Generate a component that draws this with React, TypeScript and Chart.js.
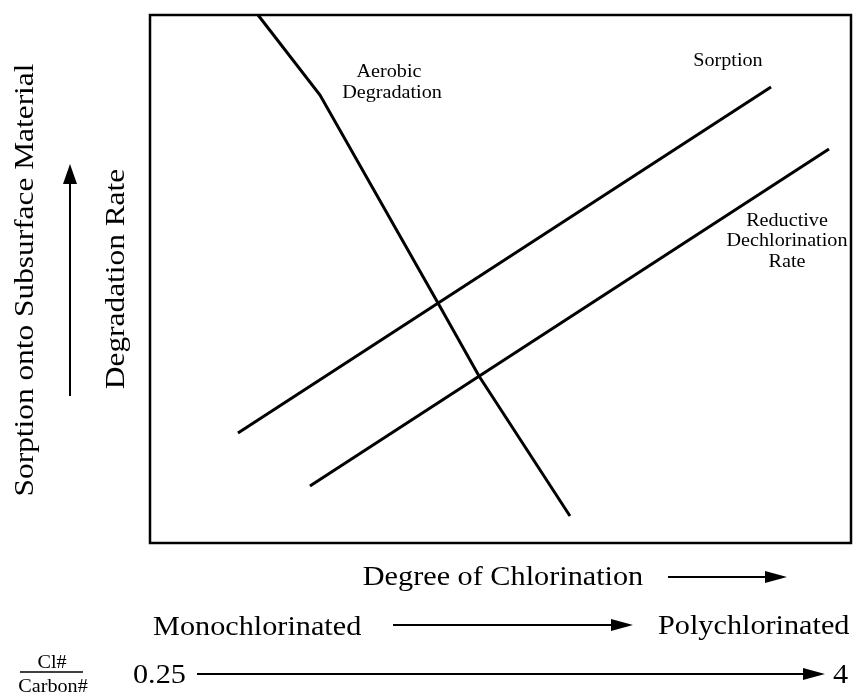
import React, { useEffect, useRef } from "react";
import { Chart, registerables } from "chart.js";

Chart.register(...registerables);

// ---- data (arbitrary 0–100 units; x = degree of chlorination, y = rate / sorption) ----
const aerobicX = [15.41, 24.25, 41.08, 46.93, 59.91];
const aerobicY = [100, 84.85, 45.45, 31.63, 5.11];
const sorptionX = [12.55, 88.59];
const sorptionY = [20.83, 86.36];
const reductiveX = [22.82, 96.86];
const reductiveY = [10.8, 74.62];

const seriesNames = ["Aerobic Degradation", "Sorption", "Reductive Dechlorination Rate"];

// in-plot labels (text lines, anchored in data units at each line's baseline)
const labelLines = [
  { text: "Aerobic", x: 34.09, y: 88.26 },
  { text: "Degradation", x: 34.52, y: 84.28 },
  { text: "Sorption", x: 82.45, y: 90.34 },
  { text: "Reductive", x: 90.87, y: 60.04 },
  { text: "Dechlorination", x: 90.87, y: 56.25 },
  { text: "Rate", x: 90.87, y: 52.27 },
];

const FONT = '"Liberation Serif", "Times New Roman", serif';
const SX = 1.12;

function pts(xs: number[], ys: number[]) {
  return xs.map((x, i) => ({ x, y: ys[i] }));
}

function stretchText(
  ctx: CanvasRenderingContext2D,
  text: string,
  x: number,
  y: number,
  size: number,
  align: CanvasTextAlign
) {
  ctx.save();
  ctx.font = `${size}px ${FONT}`;
  ctx.textAlign = align;
  ctx.textBaseline = "alphabetic";
  ctx.translate(x, y);
  ctx.scale(SX, 1);
  ctx.fillText(text, 0, 0);
  ctx.restore();
}

function arrow(ctx: CanvasRenderingContext2D, x1: number, y1: number, x2: number, y2: number, head: number, half: number) {
  const ang = Math.atan2(y2 - y1, x2 - x1);
  const bx = x2 - head * Math.cos(ang);
  const by = y2 - head * Math.sin(ang);
  ctx.save();
  ctx.strokeStyle = "#000";
  ctx.fillStyle = "#000";
  ctx.lineWidth = 2;
  ctx.beginPath();
  ctx.moveTo(x1, y1);
  ctx.lineTo(bx, by);
  ctx.stroke();
  ctx.beginPath();
  ctx.moveTo(x2, y2);
  ctx.lineTo(bx + half * Math.sin(ang), by - half * Math.cos(ang));
  ctx.lineTo(bx - half * Math.sin(ang), by + half * Math.cos(ang));
  ctx.closePath();
  ctx.fill();
  ctx.restore();
}

const decorPlugin = {
  id: "decor",
  afterDraw(chart: any) {
    const ctx: CanvasRenderingContext2D = chart.ctx;
    const { left, right, top, bottom } = chart.chartArea;
    const xs = chart.scales.x;
    const ys = chart.scales.y;
    ctx.save();
    ctx.fillStyle = "#000";
    // frame
    ctx.strokeStyle = "#000";
    ctx.lineWidth = 2.5;
    ctx.strokeRect(left, top, right - left, bottom - top);

    // in-plot labels
    for (const l of labelLines) {
      stretchText(ctx, l.text, xs.getPixelForValue(l.x), ys.getPixelForValue(l.y), 18, "center");
    }

    // left rotated titles
    ctx.save();
    ctx.translate(33, 280);
    ctx.rotate(-Math.PI / 2);
    stretchText(ctx, "Sorption onto Subsurface Material", 0, 0, 28, "center");
    ctx.restore();
    ctx.save();
    ctx.translate(124, 279);
    ctx.rotate(-Math.PI / 2);
    stretchText(ctx, "Degradation Rate", 0, 0, 28, "center");
    ctx.restore();
    arrow(ctx, 70, 396, 70, 164, 20, 7);

    // bottom titles
    stretchText(ctx, "Degree of Chlorination", 503, 585, 27, "center");
    arrow(ctx, 668, 577, 787, 577, 22, 6);

    stretchText(ctx, "Monochlorinated", 153, 635, 27, "left");
    arrow(ctx, 393, 625, 633, 625, 22, 6);
    stretchText(ctx, "Polychlorinated", 658, 634, 27, "left");

    stretchText(ctx, "0.25", 133, 683, 27, "left");
    arrow(ctx, 197, 674, 825, 674, 22, 6);
    stretchText(ctx, "4", 833, 683, 27, "left");

    stretchText(ctx, "Cl#", 52, 668, 18, "center");
    ctx.lineWidth = 1.5;
    ctx.beginPath();
    ctx.moveTo(20, 672);
    ctx.lineTo(83, 672);
    ctx.stroke();
    stretchText(ctx, "Carbon#", 53, 692, 18, "center");
    ctx.restore();
  },
};

export default function App() {
  const ref = useRef<HTMLCanvasElement | null>(null);
  useEffect(() => {
    document.body.style.margin = "0";
    const canvas = ref.current;
    if (!canvas) return;
    const lineStyle = {
      borderColor: "#000",
      borderWidth: 3,
      pointRadius: 0,
      showLine: true,
      tension: 0,
      fill: false,
      clip: false as any,
    };
    const chart = new Chart(canvas, {
      type: "scatter",
      data: {
        datasets: [
          { label: seriesNames[0], data: pts(aerobicX, aerobicY), ...lineStyle },
          { label: seriesNames[1], data: pts(sorptionX, sorptionY), ...lineStyle },
          { label: seriesNames[2], data: pts(reductiveX, reductiveY), ...lineStyle },
        ],
      },
      options: {
        responsive: false,
        animation: false,
        layout: { padding: { left: 150, top: 15, right: 2, bottom: 153 } },
        plugins: { legend: { display: false }, tooltip: { enabled: false } },
        scales: {
          x: { type: "linear", min: 0, max: 100, display: false },
          y: { type: "linear", min: 0, max: 100, display: false },
        },
      },
      plugins: [decorPlugin],
    });
    return () => chart.destroy();
  }, []);
  return (
    <div style={{ position: "absolute", left: 0, top: 0, width: 853, height: 696, background: "#fff" }}>
      <canvas ref={ref} width={853} height={696} />
    </div>
  );
}
